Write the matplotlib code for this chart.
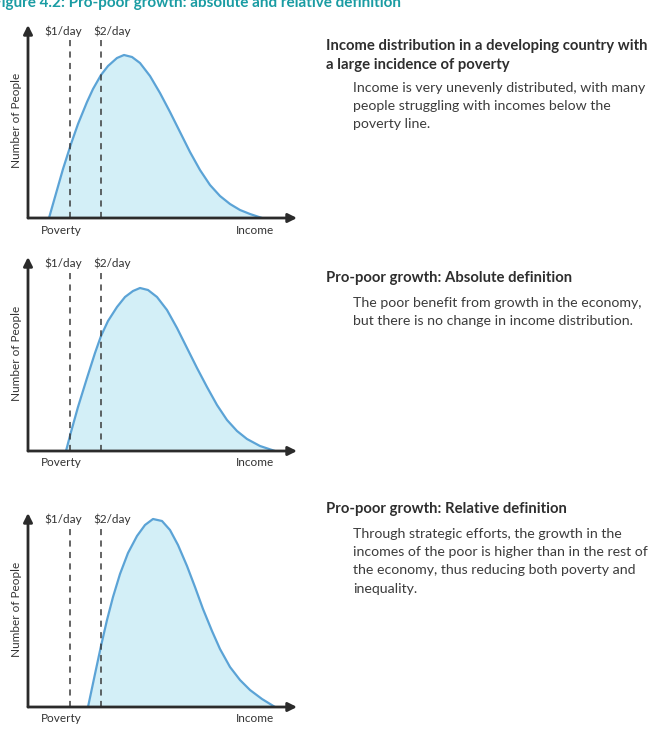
import matplotlib.pyplot as plt
import numpy as np

W, H = 663, 735

# income (x) and number of people (y), in axis units
inc_1 = [21, 29, 35, 43, 50, 59, 65, 73, 80, 89, 96, 104, 112, 122, 132, 142,
         152, 162, 172, 182, 192, 202, 212, 222, 234]
ppl_1 = [0, 28, 49, 74, 94, 116, 129, 143, 152, 160, 163, 161, 155, 142, 125,
         106, 86, 66, 48, 33, 22, 14, 8, 4, 0]

inc_2 = [38, 43, 50, 59, 67, 73, 80, 89, 97, 105, 112, 120, 129, 139, 149, 159,
         169, 179, 189, 199, 209, 219, 232, 247]
ppl_2 = [0, 19, 44, 73, 98, 115, 130, 144, 154, 160, 163, 161, 154, 141, 123,
         103, 83, 64, 46, 31, 20, 12, 5, 0]

inc_3 = [60, 67, 73, 79, 85, 92, 100, 109, 117, 125, 134, 142, 150, 159, 167,
         175, 184, 192, 202, 212, 222, 234, 247]
ppl_3 = [0, 33, 61, 87, 110, 133, 154, 171, 182, 188, 186, 177, 162, 141, 120,
         98, 76, 58, 40, 27, 17, 8, 0]

poverty_lines = [42, 73]
line_labels = ['$1/day', '$2/day']

headings = [
    'Income distribution in a developing country with\na large incidence of poverty',
    'Pro-poor growth: Absolute definition',
    'Pro-poor growth: Relative definition',
]
bodies = [
    'Income is very unevenly distributed, with many\npeople struggling with incomes below the\npoverty line.',
    'The poor benefit from growth in the economy,\nbut there is no change in income distribution.',
    'Through strategic efforts, the growth in the\nincomes of the poor is higher than in the rest of\nthe economy, thus reducing both poverty and\ninequality.',
]

plt.rcParams['font.family'] = ['Lato', 'DejaVu Sans']

fig = plt.figure(figsize=(W / 100, H / 100), dpi=100)

# title, cut off at the top of the page
fig.text(-7 / W, 1 - 7 / H, 'Figure 4.2: Pro-poor growth: absolute and relative definition',
         color='#1a9ca3', fontsize=11, fontweight='bold', va='baseline')

# (baseline y px, axis height px, heading y px, body first line y px)
panels = [
    (218, 193, 47, 90, inc_1, ppl_1),
    (451, 194, 279, 305, inc_2, ppl_2),
    (707, 194, 510, 536, inc_3, ppl_3),
]
axis_col = '#2b2b2b'

for i, (base, hgt, hy, by, inc, ppl) in enumerate(panels):
    ax = fig.add_axes([28 / W, (H - base) / H, 269 / W, hgt / H])
    ax.set_xlim(0, 269)
    ax.set_ylim(0, hgt)
    ax.axis('off')

    ax.fill_between(inc, ppl, 0, color='#d3eff7', lw=0)
    ax.plot(inc, ppl, color='#5ba3d6', lw=1.6, solid_joinstyle='round',
            solid_capstyle='round')

    for x, lab in zip(poverty_lines, line_labels):
        ax.plot([x, x], [0, hgt - 12], color='#3a3a3a', lw=1.1,
                dashes=(4, 3.5))
        ax.text(x - 26 if lab == '$1/day' else x - 8, hgt - 6, lab,
                ha='left', va='center', fontsize=8.5, color='#333333')

    ax.annotate('', xy=(269, 0), xytext=(0, 0),
                arrowprops=dict(arrowstyle='-|>', color=axis_col, lw=2,
                                mutation_scale=13, shrinkA=0, shrinkB=0),
                annotation_clip=False)
    ax.annotate('', xy=(0, hgt), xytext=(0, 0),
                arrowprops=dict(arrowstyle='-|>', color=axis_col, lw=2,
                                mutation_scale=13, shrinkA=0, shrinkB=0),
                annotation_clip=False)

    ax.text(33, -12, 'Poverty', ha='center', va='center', fontsize=8.5,
            color='#333333', clip_on=False)
    ax.text(227, -12, 'Income', ha='center', va='center', fontsize=8.5,
            color='#333333', clip_on=False)
    ax.text(-11, 98, 'Number of People', rotation=90, ha='center',
            va='center', fontsize=8.5, color='#333333', clip_on=False)

    fig.text(326 / W, 1 - (hy - 8) / H, headings[i], fontsize=10.7,
             fontweight='bold', color='#2e2e2e', va='top', linespacing=1.5)
    fig.text(353 / W, 1 - (by - 8) / H, bodies[i], fontsize=10.2,
             color='#3c3c3c', va='top', linespacing=1.62)

fig.savefig('out.png', dpi=100)
